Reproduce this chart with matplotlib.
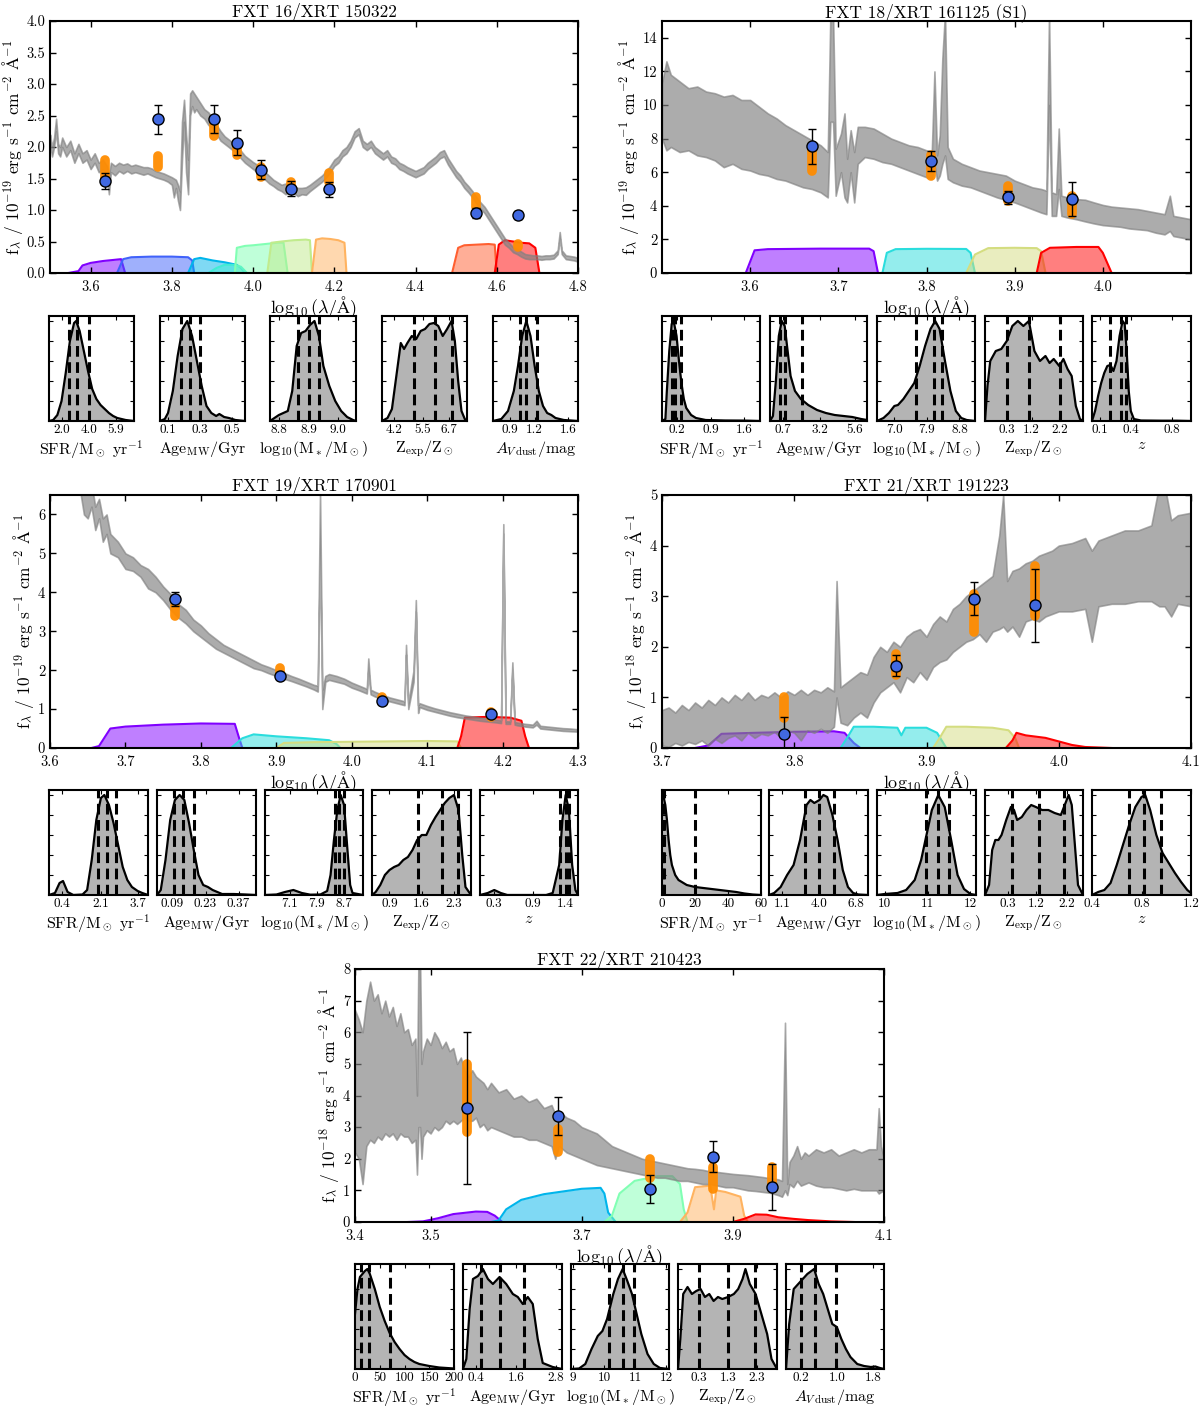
import numpy as np
import matplotlib
matplotlib.use('Agg')
from matplotlib import pyplot as plt
from matplotlib.ticker import FormatStrFormatter

plt.rcParams['font.family'] = 'serif'
plt.rcParams['font.serif'] = ['cmr10', 'DejaVu Serif']
plt.rcParams['mathtext.fontset'] = 'cm'
plt.rcParams['axes.formatter.use_mathtext'] = True
plt.rcParams['axes.linewidth'] = 1.5
plt.rcParams['axes.unicode_minus'] = False

# ============================================================
# SED DATA  (log10 wavelength, lower / upper model envelope)
# ============================================================
# FXT 16
spec16_x = [3.500, 3.505, 3.510, 3.515, 3.520, 3.525, 3.530, 3.540, 3.550, 3.560, 3.570, 3.580, 3.590, 3.600,
            3.610, 3.620, 3.630, 3.640, 3.645, 3.650, 3.660, 3.670, 3.680, 3.690, 3.700, 3.710, 3.720, 3.730,
            3.740, 3.750, 3.760, 3.770, 3.780, 3.790, 3.800, 3.805, 3.810, 3.815, 3.820, 3.825, 3.830, 3.835,
            3.840, 3.845, 3.850, 3.855, 3.860, 3.870, 3.880, 3.890, 3.900, 3.910, 3.920, 3.930, 3.940, 3.950,
            3.960, 3.970, 3.980, 3.990, 4.000, 4.010, 4.020, 4.030, 4.040, 4.050, 4.060, 4.070, 4.080, 4.090,
            4.100, 4.110, 4.120, 4.130, 4.140, 4.150, 4.160, 4.170, 4.180, 4.190, 4.200, 4.210, 4.220, 4.230,
            4.240, 4.250, 4.260, 4.270, 4.280, 4.290, 4.300, 4.310, 4.320, 4.330, 4.340, 4.350, 4.360, 4.370,
            4.380, 4.390, 4.400, 4.410, 4.420, 4.430, 4.440, 4.450, 4.460, 4.470, 4.480, 4.490, 4.500, 4.510,
            4.520, 4.530, 4.540, 4.550, 4.560, 4.570, 4.580, 4.590, 4.600, 4.610, 4.620, 4.630, 4.640, 4.650,
            4.660, 4.670, 4.680, 4.690, 4.700, 4.710, 4.720, 4.730, 4.740, 4.750, 4.755, 4.760, 4.770, 4.780,
            4.790, 4.800]
spec16_lo = [2.05, 1.85, 2.00, 2.25, 1.90, 1.85, 2.00, 1.85, 1.95, 1.75, 1.90, 1.75, 1.80, 1.65,
             1.75, 1.60, 1.65, 1.55, 1.25, 1.60, 1.55, 1.62, 1.58, 1.62, 1.58, 1.60, 1.58, 1.56,
             1.58, 1.55, 1.52, 1.50, 1.48, 1.45, 1.40, 1.20, 1.35, 1.15, 1.00, 1.80, 2.40, 1.60,
             1.25, 2.50, 2.65, 2.55, 2.60, 2.50, 2.45, 2.35, 2.30, 2.20, 2.10, 2.05, 2.00, 1.95,
             1.90, 1.82, 1.75, 1.70, 1.65, 1.60, 1.55, 1.48, 1.42, 1.38, 1.33, 1.30, 1.25, 1.30,
             1.27, 1.22, 1.25, 1.24, 1.30, 1.35, 1.40, 1.45, 1.52, 1.60, 1.70, 1.75, 1.85, 1.90,
             2.00, 2.15, 2.20, 2.00, 1.95, 2.00, 1.90, 1.85, 1.80, 1.85, 1.75, 1.72, 1.65, 1.62,
             1.58, 1.55, 1.52, 1.55, 1.58, 1.65, 1.70, 1.75, 1.82, 1.85, 1.72, 1.62, 1.52, 1.45,
             1.35, 1.28, 1.20, 1.10, 1.02, 0.95, 0.85, 0.75, 0.65, 0.55, 0.45, 0.40, 0.33, 0.30,
             0.26, 0.23, 0.22, 0.22, 0.22, 0.21, 0.22, 0.22, 0.23, 0.30, 0.55, 0.30, 0.22, 0.21,
             0.20, 0.18]
spec16_hi = [2.20, 2.00, 2.15, 2.45, 2.05, 2.00, 2.15, 2.00, 2.10, 1.90, 2.05, 1.90, 1.95, 1.80,
             1.90, 1.75, 1.80, 1.70, 1.55, 1.75, 1.70, 1.75, 1.72, 1.74, 1.70, 1.72, 1.70, 1.68,
             1.68, 1.66, 1.62, 1.60, 1.58, 1.55, 1.52, 1.50, 1.48, 1.40, 1.30, 2.40, 2.75, 2.20,
             1.80, 2.85, 2.90, 2.85, 2.80, 2.70, 2.60, 2.55, 2.45, 2.35, 2.25, 2.17, 2.12, 2.07,
             2.02, 1.94, 1.86, 1.81, 1.76, 1.72, 1.67, 1.60, 1.54, 1.48, 1.44, 1.40, 1.42, 1.40,
             1.38, 1.35, 1.35, 1.36, 1.40, 1.45, 1.50, 1.55, 1.62, 1.70, 1.80, 1.85, 1.95, 2.00,
             2.10, 2.25, 2.30, 2.10, 2.05, 2.10, 2.00, 1.95, 1.90, 1.95, 1.85, 1.82, 1.75, 1.72,
             1.68, 1.65, 1.62, 1.65, 1.68, 1.75, 1.80, 1.85, 1.92, 1.95, 1.82, 1.72, 1.62, 1.55,
             1.45, 1.38, 1.30, 1.20, 1.12, 1.05, 0.95, 0.85, 0.75, 0.65, 0.55, 0.48, 0.41, 0.38,
             0.34, 0.30, 0.29, 0.28, 0.28, 0.27, 0.28, 0.28, 0.29, 0.36, 0.65, 0.36, 0.28, 0.27,
             0.26, 0.24]

# FXT 18
spec18_x = [3.500, 3.505, 3.510, 3.520, 3.530, 3.540, 3.550, 3.560, 3.570, 3.580, 3.590, 3.600, 3.610, 3.620,
            3.630, 3.640, 3.650, 3.660, 3.670, 3.680, 3.688, 3.691, 3.694, 3.697, 3.703, 3.707, 3.710, 3.714,
            3.718, 3.722, 3.730, 3.740, 3.750, 3.760, 3.770, 3.780, 3.790, 3.800, 3.806, 3.809, 3.812, 3.815,
            3.818, 3.821, 3.824, 3.830, 3.840, 3.850, 3.860, 3.870, 3.880, 3.890, 3.900, 3.910, 3.920, 3.930,
            3.936, 3.939, 3.942, 3.947, 3.950, 3.953, 3.960, 3.970, 3.980, 3.990, 4.000, 4.010, 4.020, 4.030,
            4.040, 4.050, 4.060, 4.070, 4.076, 4.080, 4.090, 4.100]
spec18_lo = [8.0, 7.3, 7.5, 7.2, 7.3, 7.0, 6.9, 6.7, 6.3, 6.5, 6.2, 6.1, 5.9, 5.8,
             5.6, 5.5, 5.3, 5.1, 5.0, 4.8, 4.5, 9.0, 9.0, 4.6, 6.0, 4.5, 4.2, 6.0,
             4.2, 6.5, 6.9, 6.8, 6.6, 6.5, 6.3, 6.1, 5.9, 5.7, 5.6, 6.5, 5.5, 5.8,
             6.5, 7.0, 5.6, 5.4, 5.2, 5.1, 4.9, 4.7, 4.5, 4.35, 4.2, 4.0, 3.8, 3.6,
             3.5, 10.0, 3.4, 3.4, 5.0, 3.4, 3.3, 3.2, 3.07, 2.95, 2.85, 2.8, 2.75, 2.65,
             2.6, 2.55, 2.4, 2.3, 2.5, 2.2, 2.1, 2.0]
spec18_hi = [11.3, 12.6, 11.8, 11.4, 11.0, 11.1, 10.8, 10.7, 10.5, 10.6, 10.3, 10.3, 9.9, 9.5,
             9.2, 8.8, 8.5, 8.2, 7.9, 7.6, 7.2, 15.5, 15.5, 7.4, 8.3, 9.5, 6.8, 8.5,
             7.2, 8.7, 8.7, 8.6, 8.3, 8.0, 7.8, 7.6, 7.5, 7.3, 7.2, 12.0, 7.0, 8.2,
             12.8, 15.5, 7.5, 6.8, 6.5, 6.3, 6.1, 6.0, 5.9, 5.8, 5.5, 5.3, 5.1, 5.0,
             4.9, 15.5, 4.8, 4.7, 8.6, 4.6, 4.5, 4.4, 4.36, 4.2, 4.05, 3.95, 3.9, 3.85,
             3.8, 3.7, 3.6, 3.5, 4.6, 3.4, 3.3, 3.2]

# FXT 19
spec19_x = [3.640, 3.645, 3.650, 3.655, 3.660, 3.665, 3.670, 3.675, 3.680, 3.690, 3.700, 3.710, 3.720, 3.730,
            3.740, 3.750, 3.760, 3.770, 3.780, 3.790, 3.800, 3.810, 3.820, 3.830, 3.840, 3.850, 3.860, 3.870,
            3.880, 3.890, 3.900, 3.910, 3.920, 3.930, 3.940, 3.950, 3.955, 3.958, 3.961, 3.965, 3.970, 3.980,
            3.990, 4.000, 4.010, 4.020, 4.022, 4.025, 4.030, 4.040, 4.050, 4.060, 4.070, 4.072, 4.075, 4.082,
            4.085, 4.088, 4.090, 4.100, 4.110, 4.120, 4.130, 4.140, 4.150, 4.160, 4.170, 4.180, 4.190, 4.198,
            4.201, 4.204, 4.210, 4.213, 4.216, 4.220, 4.230, 4.240, 4.245, 4.250, 4.260, 4.270, 4.280, 4.290,
            4.300]
spec19_lo = [6.6, 6.0, 5.9, 6.2, 5.6, 5.9, 5.3, 5.5, 5.0, 4.9, 4.6, 4.55, 4.4, 4.1,
             4.0, 3.8, 3.55, 3.35, 3.2, 3.0, 2.85, 2.7, 2.55, 2.45, 2.35, 2.25, 2.15, 2.05,
             2.0, 1.92, 1.85, 1.78, 1.72, 1.65, 1.58, 1.5, 1.45, 5.0, 1.0, 1.7, 1.75, 1.7,
             1.65, 1.55, 1.48, 1.4, 2.0, 1.38, 1.33, 1.25, 1.2, 1.15, 1.1, 2.4, 1.0, 1.7,
             3.5, 0.9, 1.05, 0.98, 0.93, 0.88, 0.83, 0.79, 0.76, 0.73, 0.7, 0.68, 0.66, 0.64,
             5.5, 0.62, 0.62, 2.0, 0.6, 0.58, 0.55, 0.53, 0.6, 0.5, 0.48, 0.46, 0.44, 0.43,
             0.42]
spec19_hi = [7.0, 6.8, 6.6, 6.8, 6.2, 6.4, 5.9, 6.0, 5.5, 5.3, 5.0, 4.9, 4.7, 4.6,
             4.4, 4.15, 3.95, 3.7, 3.55, 3.3, 3.15, 2.95, 2.8, 2.65, 2.55, 2.45, 2.35, 2.25,
             2.15, 2.08, 2.0, 1.93, 1.85, 1.78, 1.7, 1.62, 1.6, 6.6, 1.5, 1.85, 1.9, 1.85,
             1.78, 1.68, 1.6, 1.52, 2.3, 1.5, 1.45, 1.37, 1.3, 1.25, 1.2, 2.65, 1.15, 2.0,
             3.8, 1.1, 1.15, 1.08, 1.02, 0.97, 0.92, 0.88, 0.84, 0.81, 0.78, 0.76, 0.73, 0.71,
             5.75, 0.69, 0.68, 2.2, 0.67, 0.65, 0.62, 0.6, 0.7, 0.57, 0.55, 0.53, 0.51, 0.5,
             0.48]

# FXT 21
spec21_x = [3.700, 3.705, 3.710, 3.715, 3.720, 3.725, 3.730, 3.735, 3.740, 3.745, 3.750, 3.755, 3.760, 3.765,
            3.770, 3.775, 3.780, 3.785, 3.790, 3.795, 3.800, 3.805, 3.810, 3.815, 3.820, 3.825, 3.830, 3.832,
            3.835, 3.840, 3.845, 3.850, 3.855, 3.860, 3.865, 3.870, 3.875, 3.880, 3.885, 3.890, 3.895, 3.900,
            3.905, 3.910, 3.915, 3.920, 3.925, 3.930, 3.935, 3.940, 3.945, 3.950, 3.955, 3.958, 3.961, 3.965,
            3.970, 3.975, 3.980, 3.985, 3.990, 3.995, 4.000, 4.010, 4.020, 4.025, 4.030, 4.040, 4.050, 4.060,
            4.070, 4.076, 4.080, 4.085, 4.090, 4.100]
spec21_lo = [0.05, 0.02, 0.10, 0.05, 0.12, 0.08, 0.15, 0.05, 0.18, 0.10, 0.20, 0.25, 0.15, 0.30,
             0.20, 0.28, 0.25, 0.32, 0.20, 0.35, 0.30, 0.15, 0.35, 0.30, 0.38, 0.30, 0.42, 1.00,
             0.50, 0.45, 0.60, 0.70, 0.60, 0.90, 1.10, 1.20, 1.30, 1.10, 1.40, 1.30, 1.50, 1.35,
             1.60, 1.70, 1.75, 1.90, 2.00, 2.10, 2.15, 2.25, 2.10, 2.30, 2.35, 2.40, 2.30, 2.40,
             2.20, 2.50, 2.55, 2.50, 2.60, 2.65, 2.70, 2.70, 2.75, 2.10, 2.80, 2.85, 2.85, 2.90,
             2.90, 2.80, 2.80, 2.60, 2.85, 2.80]
spec21_hi = [0.75, 0.80, 0.70, 0.85, 0.75, 0.90, 0.80, 0.95, 0.85, 1.00, 0.90, 1.05, 0.95, 1.10,
             0.95, 1.05, 1.00, 1.10, 1.00, 1.12, 1.05, 1.15, 1.05, 1.15, 1.10, 1.20, 1.12, 3.30,
             1.20, 1.30, 1.40, 1.50, 1.45, 1.80, 2.00, 1.90, 2.10, 2.00, 2.20, 2.30, 2.35, 2.20,
             2.45, 2.60, 2.50, 2.75, 2.85, 3.00, 3.10, 3.20, 3.30, 3.40, 4.20, 5.00, 3.30, 3.50,
             3.55, 3.65, 3.70, 3.80, 3.85, 3.90, 4.00, 4.05, 4.15, 3.90, 4.10, 4.20, 4.30, 4.30,
             4.40, 5.20, 5.20, 4.50, 4.60, 4.65]

# FXT 22
spec22_x = [3.400, 3.405, 3.410, 3.415, 3.420, 3.425, 3.430, 3.435, 3.440, 3.445, 3.450, 3.455, 3.460, 3.465,
            3.470, 3.475, 3.480, 3.482, 3.484, 3.486, 3.488, 3.490, 3.495, 3.500, 3.505, 3.510, 3.515, 3.520,
            3.525, 3.530, 3.535, 3.540, 3.545, 3.550, 3.555, 3.560, 3.565, 3.570, 3.575, 3.580, 3.590, 3.600,
            3.610, 3.620, 3.630, 3.640, 3.650, 3.660, 3.665, 3.670, 3.680, 3.690, 3.700, 3.710, 3.720, 3.730,
            3.740, 3.750, 3.760, 3.770, 3.780, 3.790, 3.800, 3.810, 3.820, 3.830, 3.840, 3.850, 3.860, 3.870,
            3.880, 3.890, 3.900, 3.910, 3.920, 3.930, 3.940, 3.950, 3.960, 3.965, 3.969, 3.972, 3.975, 3.980,
            3.985, 3.990, 3.995, 4.000, 4.010, 4.020, 4.030, 4.040, 4.050, 4.060, 4.070, 4.080, 4.090, 4.093,
            4.096, 4.100]
spec22_lo = [2.2, 2.0, 1.2, 2.4, 2.6, 2.5, 2.7, 2.6, 2.8, 2.7, 2.8, 2.6, 2.8, 2.7,
             2.7, 2.5, 2.6, 1.5, 3.0, 3.0, 2.0, 2.7, 2.9, 2.8, 3.0, 2.9, 3.0, 3.2,
             3.1, 3.2, 3.1, 3.2, 3.3, 3.2, 3.2, 3.3, 3.0, 3.1, 2.9, 3.0, 2.9, 2.8,
             2.7, 2.7, 2.6, 2.6, 2.5, 2.4, 2.0, 2.4, 2.2, 2.1, 2.0, 1.9, 1.8, 1.75,
             1.7, 1.65, 1.6, 1.55, 1.5, 1.45, 1.4, 1.4, 1.35, 1.3, 1.3, 1.25, 1.2, 1.2,
             1.15, 1.1, 1.1, 1.05, 1.0, 0.98, 0.95, 0.92, 0.85, 0.8, 1.0, 0.85, 1.2, 1.1,
             1.3, 1.15, 1.2, 1.25, 1.15, 1.1, 1.1, 1.05, 1.0, 1.05, 1.0, 1.0, 1.0, 0.9,
             0.95, 1.0]
spec22_hi = [6.7, 6.4, 6.0, 7.0, 7.6, 7.0, 7.2, 6.6, 7.0, 6.5, 6.8, 6.2, 6.6, 6.0,
             6.1, 5.6, 5.8, 4.0, 8.5, 8.5, 5.0, 5.4, 5.8, 5.6, 6.0, 5.8, 5.5, 5.7,
             5.4, 5.5, 5.0, 5.2, 4.8, 4.6, 4.8, 4.6, 4.5, 4.4, 4.2, 4.4, 4.1, 4.2,
             3.9, 4.0, 3.8, 3.9, 3.6, 3.7, 3.4, 3.5, 3.3, 3.2, 3.0, 2.9, 2.8, 2.6,
             2.4, 2.3, 2.2, 2.1, 2.0, 1.95, 1.9, 1.85, 1.8, 1.75, 1.7, 1.68, 1.65, 1.6,
             1.58, 1.55, 1.52, 1.5, 1.48, 1.45, 1.42, 1.38, 1.35, 1.3, 6.3, 1.2, 1.9, 2.1,
             2.4, 2.0, 2.2, 2.1, 2.3, 2.2, 2.3, 2.1, 2.2, 2.3, 2.2, 2.3, 2.3, 3.6,
             2.4, 2.0]

# ============================================================
# FILTER CURVES  (x, transmission in plot units)
# ============================================================
filt16 = [
    ([3.545, 3.57, 3.58, 3.60, 3.63, 3.66, 3.675, 3.685], [0, 0.03, 0.12, 0.16, 0.19, 0.21, 0.22, 0]),
    ([3.665, 3.68, 3.70, 3.75, 3.80, 3.84, 3.85, 3.855], [0, 0.22, 0.25, 0.26, 0.26, 0.25, 0.2, 0]),
    ([3.84, 3.855, 3.87, 3.90, 3.93, 3.96, 3.97, 3.98], [0, 0.22, 0.24, 0.2, 0.17, 0.13, 0.08, 0]),
    ([3.89, 3.91, 3.93, 3.95, 3.97, 3.985], [0, 0.08, 0.13, 0.13, 0.1, 0]),
    ([3.955, 3.96, 3.98, 4.00, 4.03, 4.06, 4.075, 4.085], [0, 0.4, 0.43, 0.44, 0.46, 0.48, 0.48, 0]),
    ([4.035, 4.045, 4.07, 4.10, 4.13, 4.14, 4.145], [0, 0.48, 0.5, 0.52, 0.53, 0.52, 0]),
    ([4.145, 4.155, 4.17, 4.19, 4.21, 4.225, 4.23], [0, 0.53, 0.55, 0.54, 0.52, 0.48, 0]),
    ([4.49, 4.505, 4.52, 4.55, 4.58, 4.595, 4.60], [0, 0.4, 0.44, 0.45, 0.46, 0.45, 0]),
    ([4.595, 4.605, 4.62, 4.64, 4.66, 4.68, 4.695, 4.705], [0, 0.45, 0.52, 0.5, 0.48, 0.47, 0.4, 0]),
]
filt18 = [
    ([3.595, 3.605, 3.62, 3.68, 3.735, 3.74, 3.745], [0, 1.35, 1.42, 1.45, 1.45, 1.3, 0]),
    ([3.75, 3.755, 3.765, 3.80, 3.845, 3.85, 3.855], [0, 1.2, 1.42, 1.44, 1.43, 1.2, 0]),
    ([3.845, 3.855, 3.87, 3.90, 3.925, 3.93, 3.935], [0, 1.1, 1.48, 1.5, 1.48, 1.3, 0]),
    ([3.925, 3.93, 3.94, 3.97, 3.995, 4.00, 4.01], [0, 1.2, 1.5, 1.55, 1.55, 1.2, 0]),
]
filt19 = [
    ([3.655, 3.665, 3.68, 3.70, 3.75, 3.80, 3.845, 3.85, 3.855], [0, 0.05, 0.5, 0.55, 0.6, 0.63, 0.62, 0.3, 0]),
    ([3.84, 3.855, 3.87, 3.90, 3.94, 3.97, 3.98, 3.985], [0, 0.25, 0.35, 0.3, 0.25, 0.2, 0.1, 0]),
    ([3.90, 3.91, 3.95, 4.00, 4.05, 4.10, 4.14, 4.145], [0, 0.13, 0.15, 0.16, 0.17, 0.18, 0.17, 0]),
    ([4.14, 4.145, 4.15, 4.18, 4.21, 4.225, 4.23, 4.235], [0, 0.3, 0.78, 0.8, 0.78, 0.7, 0.3, 0]),
]
filt21 = [
    ([3.725, 3.735, 3.745, 3.77, 3.80, 3.83, 3.838, 3.845, 3.85], [0, 0.05, 0.28, 0.3, 0.32, 0.33, 0.3, 0.1, 0]),
    ([3.835, 3.84, 3.845, 3.86, 3.878, 3.881, 3.884, 3.90, 3.908, 3.915], [0, 0.2, 0.42, 0.42, 0.4, 0.25, 0.4, 0.4, 0.3, 0]),
    ([3.905, 3.91, 3.915, 3.93, 3.95, 3.962, 3.967, 3.97], [0, 0.2, 0.42, 0.42, 0.4, 0.35, 0.2, 0]),
    ([3.96, 3.965, 3.968, 3.975, 3.99, 4.00, 4.01, 4.02, 4.04], [0, 0.15, 0.3, 0.25, 0.2, 0.13, 0.06, 0.02, 0]),
]
filt22 = [
    ([3.47, 3.49, 3.51, 3.53, 3.56, 3.575, 3.585, 3.595], [0, 0.02, 0.12, 0.25, 0.33, 0.32, 0.2, 0]),
    ([3.58, 3.59, 3.60, 3.62, 3.65, 3.70, 3.725, 3.73, 3.735, 3.745], [0, 0.05, 0.4, 0.7, 0.88, 1.05, 1.08, 0.9, 0.3, 0]),
    ([3.73, 3.74, 3.75, 3.77, 3.80, 3.82, 3.83, 3.835, 3.84], [0, 0.2, 0.9, 1.3, 1.45, 1.45, 1.2, 0.4, 0]),
    ([3.83, 3.84, 3.85, 3.87, 3.875, 3.878, 3.89, 3.91, 3.915, 3.92], [0, 0.3, 1.1, 1.15, 0.4, 1.0, 0.95, 0.8, 0.2, 0]),
    ([3.90, 3.915, 3.93, 3.945, 3.96, 3.98, 4.00, 4.03, 4.06], [0, 0.1, 0.24, 0.23, 0.15, 0.1, 0.06, 0.02, 0]),
]

# ============================================================
# PHOTOMETRY (observed) AND MODEL PREDICTIONS
# ============================================================
phot16_x = [3.635, 3.767, 3.905, 3.960, 4.020, 4.093, 4.186, 4.550, 4.652]
phot16_y = [1.46, 2.44, 2.45, 2.07, 1.64, 1.34, 1.33, 0.95, 0.92]
phot16_e = [0.12, 0.23, 0.22, 0.20, 0.15, 0.12, 0.12, 0.08, 0.06]
mod16_lo = [1.50, 1.68, 2.18, 1.88, 1.52, 1.35, 1.45, 1.05, 0.42]
mod16_hi = [1.80, 1.85, 2.35, 2.00, 1.68, 1.45, 1.58, 1.20, 0.46]

phot18_x = [3.670, 3.805, 3.893, 3.965]
phot18_y = [7.55, 6.65, 4.50, 4.40]
phot18_e = [1.05, 0.60, 0.40, 1.00]
mod18_lo = [6.1, 5.8, 4.3, 3.5]
mod18_hi = [7.5, 7.0, 5.2, 4.6]

phot19_x = [3.766, 3.905, 4.040, 4.185]
phot19_y = [3.83, 1.85, 1.20, 0.88]
phot19_e = [0.17, 0.05, 0.05, 0.05]
mod19_lo = [3.40, 1.90, 1.20, 0.80]
mod19_hi = [3.65, 2.05, 1.30, 0.92]

phot21_x = [3.792, 3.877, 3.936, 3.982]
phot21_y = [0.27, 1.63, 2.95, 2.82]
phot21_e = [0.35, 0.20, 0.33, 0.72]
mod21_lo = [0.60, 1.45, 2.30, 2.60]
mod21_hi = [1.00, 1.85, 3.05, 3.60]

phot22_x = [3.548, 3.668, 3.790, 3.874, 3.952]
phot22_y = [3.60, 3.35, 1.05, 2.07, 1.10]
phot22_e = [2.40, 0.60, 0.45, 0.48, 0.72]
mod22_lo = [2.85, 2.20, 1.40, 1.05, 1.10]
mod22_hi = [5.00, 2.95, 2.00, 1.75, 1.75]

# ============================================================
# POSTERIORS  (x, relative density), percentiles, tick labels
# ============================================================
p16_sfr = [(1.1, 0), (1.4, 0.01), (1.7, 0.06), (2.0, 0.2), (2.3, 0.48), (2.6, 0.8), (2.9, 0.98), (3.05, 1.0),
           (3.3, 0.9), (3.6, 0.7), (3.9, 0.5), (4.2, 0.32), (4.5, 0.22), (4.8, 0.16), (5.1, 0.12), (5.4, 0.08),
           (5.7, 0.05), (6.0, 0.03), (6.3, 0.02), (6.6, 0.01), (7.2, 0)]
p16_sfr_q = [2.55, 3.1, 4.0]
p16_sfr_t = ['2.0', '4.0', '5.9']
p16_age = [(0.05, 0), (0.08, 0.02), (0.10, 0.08), (0.13, 0.3), (0.16, 0.65), (0.19, 0.92), (0.22, 1.0),
           (0.25, 0.85), (0.28, 0.6), (0.31, 0.35), (0.34, 0.15), (0.37, 0.08), (0.40, 0.05), (0.42, 0.07),
           (0.45, 0.04), (0.48, 0.03), (0.52, 0.01), (0.58, 0)]
p16_age_q = [0.18, 0.235, 0.30]
p16_age_t = ['0.1', '0.3', '0.5']
p16_mass = [(8.77, 0), (8.78, 0.02), (8.80, 0.06), (8.83, 0.1), (8.845, 0.3), (8.86, 0.75), (8.875, 0.88),
            (8.89, 0.9), (8.905, 0.96), (8.92, 1.0), (8.935, 0.85), (8.95, 0.55), (8.97, 0.35), (8.99, 0.2),
            (9.01, 0.1), (9.03, 0.04), (9.05, 0.01), (9.06, 0)]
p16_mass_q = [8.866, 8.90, 8.936]
p16_mass_t = ['8.8', '8.9', '9.0']
p16_met = [(3.65, 0), (3.9, 0.03), (4.1, 0.12), (4.3, 0.45), (4.5, 0.78), (4.65, 0.72), (4.8, 0.78),
           (5.0, 0.85), (5.2, 0.82), (5.4, 0.9), (5.6, 0.92), (5.8, 0.97), (6.0, 0.98), (6.2, 0.95), (6.4, 0.85),
           (6.6, 0.92), (6.8, 1.0), (6.95, 0.8), (7.1, 0.4), (7.25, 0.1), (7.4, 0.02), (7.5, 0)]
p16_met_q = [5.09, 6.04, 6.83]
p16_met_t = ['4.2', '5.5', '6.7']
p16_av = [(0.70, 0), (0.80, 0.02), (0.88, 0.1), (0.95, 0.3), (1.00, 0.55), (1.05, 0.85), (1.10, 1.0),
          (1.15, 0.85), (1.20, 0.55), (1.25, 0.3), (1.30, 0.15), (1.35, 0.08), (1.40, 0.06), (1.45, 0.03),
          (1.55, 0.01), (1.72, 0)]
p16_av_q = [1.02, 1.10, 1.23]
p16_av_t = ['0.9', '1.2', '1.6']

p18_sfr = [(-0.1, 0), (-0.03, 0.02), (0.0, 0.3), (0.05, 0.7), (0.1, 0.97), (0.14, 1.0), (0.2, 0.85),
           (0.25, 0.6), (0.3, 0.38), (0.35, 0.22), (0.4, 0.13), (0.5, 0.06), (0.6, 0.03), (0.8, 0.01),
           (1.2, 0.005), (1.6, 0.004), (1.92, 0)]
p18_sfr_q = [0.1, 0.17, 0.3]
p18_sfr_t = ['0.2', '0.9', '1.6']
p18_age = [(-0.2, 0), (0.0, 0.05), (0.2, 0.4), (0.4, 0.85), (0.6, 1.0), (0.8, 0.95), (1.0, 0.7), (1.2, 0.45),
           (1.5, 0.3), (1.9, 0.22), (2.4, 0.16), (3.0, 0.11), (3.6, 0.08), (4.2, 0.06), (4.8, 0.05),
           (5.4, 0.04), (6.0, 0.02), (6.4, 0.01)]
p18_age_q = [0.5, 0.82, 2.0]
p18_age_t = ['0.7', '3.2', '5.6']
p18_mass = [(6.52, 0), (6.7, 0.03), (6.85, 0.08), (7.0, 0.15), (7.1, 0.16), (7.25, 0.22), (7.4, 0.3),
            (7.55, 0.38), (7.7, 0.55), (7.85, 0.75), (8.0, 0.92), (8.13, 1.0), (8.25, 0.92), (8.4, 0.6),
            (8.55, 0.3), (8.7, 0.1), (8.85, 0.03), (9.0, 0.01), (9.23, 0)]
p18_mass_q = [7.59, 8.1, 8.31]
p18_mass_t = ['7.0', '7.9', '8.8']
p18_met = [(-0.49, 0), (-0.4, 0.35), (-0.3, 0.6), (-0.1, 0.7), (0.1, 0.72), (0.3, 0.8), (0.5, 0.95),
           (0.7, 1.0), (0.9, 0.95), (1.1, 1.0), (1.3, 0.7), (1.5, 0.6), (1.7, 0.65), (1.85, 0.58), (2.0, 0.62),
           (2.2, 0.55), (2.35, 0.62), (2.5, 0.52), (2.65, 0.45), (2.8, 0.15), (2.95, 0.02), (3.06, 0)]
p18_met_q = [0.3, 1.12, 2.22]
p18_met_t = ['0.3', '1.2', '2.2']
p18_red = [(0.02, 0), (0.05, 0.1), (0.08, 0.25), (0.11, 0.38), (0.14, 0.48), (0.17, 0.55), (0.2, 0.56),
           (0.23, 0.5), (0.26, 0.6), (0.29, 0.85), (0.32, 1.0), (0.34, 0.97), (0.36, 0.7), (0.38, 0.3),
           (0.40, 0.1), (0.43, 0.02), (0.5, 0.005), (0.7, 0.003), (0.85, 0.003), (0.99, 0)]
p18_red_q = [0.2, 0.3, 0.35]
p18_red_t = ['0.1', '0.4', '0.8']

p19_sfr = [(-0.16, 0), (0.1, 0.02), (0.3, 0.12), (0.45, 0.14), (0.65, 0.03), (0.9, 0), (1.3, 0.005),
           (1.5, 0.05), (1.7, 0.35), (1.9, 0.75), (2.1, 0.97), (2.25, 1.0), (2.45, 0.9), (2.65, 0.72),
           (2.85, 0.5), (3.05, 0.28), (3.25, 0.15), (3.45, 0.08), (3.7, 0.04), (3.9, 0.02), (4.15, 0)]
p19_sfr_q = [1.96, 2.35, 2.77]
p19_sfr_t = ['0.4', '2.1', '3.7']
p19_age = [(0.024, 0), (0.04, 0.05), (0.06, 0.35), (0.08, 0.75), (0.1, 0.95), (0.12, 1.0), (0.14, 0.95),
           (0.16, 0.72), (0.18, 0.45), (0.2, 0.2), (0.22, 0.1), (0.24, 0.08), (0.26, 0.05), (0.28, 0.03),
           (0.3, 0.01), (0.35, 0.01), (0.4, 0.005), (0.444, 0)]
p19_age_q = [0.095, 0.135, 0.18]
p19_age_t = ['0.09', '0.23', '0.37']
p19_mass = [(6.36, 0), (6.7, 0.005), (6.95, 0.03), (7.2, 0.05), (7.45, 0.02), (7.7, 0.003), (8.0, 0.005),
            (8.2, 0.04), (8.3, 0.2), (8.4, 0.55), (8.5, 0.85), (8.6, 1.0), (8.7, 0.9), (8.8, 0.45),
            (8.88, 0.1), (8.95, 0.02), (9.26, 0)]
p19_mass_q = [8.42, 8.56, 8.7]
p19_mass_t = ['7.1', '7.9', '8.7']
p19_met = [(0.52, 0), (0.6, 0.03), (0.7, 0.1), (0.8, 0.2), (0.9, 0.25), (1.0, 0.28), (1.1, 0.3), (1.2, 0.35),
           (1.3, 0.38), (1.4, 0.45), (1.5, 0.55), (1.6, 0.6), (1.7, 0.6), (1.8, 0.7), (1.9, 0.78), (2.0, 0.85),
           (2.1, 0.92), (2.2, 0.97), (2.3, 1.0), (2.4, 0.85), (2.48, 0.4), (2.55, 0.08), (2.67, 0)]
p19_met_q = [1.52, 2.04, 2.38]
p19_met_t = ['0.9', '1.6', '2.3']
p19_red = [(0.08, 0), (0.2, 0.02), (0.3, 0.05), (0.4, 0.02), (0.5, 0), (1.1, 0), (1.2, 0.02), (1.3, 0.3),
           (1.35, 0.75), (1.4, 1.0), (1.45, 0.85), (1.5, 0.3), (1.55, 0.05), (1.59, 0)]
p19_red_q = [1.32, 1.4, 1.45]
p19_red_t = ['0.3', '0.9', '1.4']

p21_sfr = [(0, 1.0), (1, 0.98), (2, 0.9), (3, 0.75), (4, 0.55), (5, 0.4), (6, 0.3), (8, 0.2), (10, 0.15),
           (15, 0.1), (20, 0.08), (25, 0.07), (30, 0.06), (35, 0.05), (40, 0.04), (45, 0.03), (50, 0.015),
           (55, 0.005), (60, 0)]
p21_sfr_q = [0.4, 1.5, 20]
p21_sfr_t = ['0', '20', '40', '60']
p21_age = [(0.1, 0), (0.5, 0.02), (1.0, 0.08), (1.5, 0.2), (2.0, 0.3), (2.5, 0.55), (3.0, 0.9), (3.3, 0.95),
           (3.6, 0.92), (4.0, 0.95), (4.3, 1.0), (4.6, 0.98), (5.0, 0.8), (5.4, 0.55), (5.8, 0.25), (6.2, 0.08),
           (6.6, 0.02), (7.0, 0.005), (7.75, 0)]
p21_age_q = [2.9, 4.0, 5.1]
p21_age_t = ['1.1', '4.0', '6.8']
p21_mass = [(9.82, 0), (10.0, 0.01), (10.3, 0.02), (10.5, 0.05), (10.7, 0.15), (10.85, 0.35), (11.0, 0.65),
            (11.1, 0.85), (11.25, 1.0), (11.4, 0.88), (11.55, 0.55), (11.7, 0.2), (11.85, 0.06), (12.0, 0.01),
            (12.13, 0)]
p21_mass_q = [10.97, 11.25, 11.5]
p21_mass_t = ['10', '11', '12']
p21_met = [(-0.43, 0), (-0.3, 0.1), (-0.2, 0.45), (-0.1, 0.55), (0.0, 0.55), (0.1, 0.6), (0.25, 0.75),
           (0.4, 0.88), (0.5, 0.85), (0.6, 0.75), (0.75, 0.78), (0.9, 0.85), (1.05, 0.9), (1.2, 0.88),
           (1.4, 0.85), (1.6, 0.85), (1.8, 0.82), (2.0, 0.8), (2.15, 0.92), (2.25, 1.0), (2.35, 0.9),
           (2.45, 0.5), (2.55, 0.1), (2.71, 0)]
p21_met_q = [0.42, 1.3, 2.1]
p21_met_t = ['0.3', '1.2', '2.2']
p21_red = [(0.4, 0), (0.45, 0.03), (0.5, 0.05), (0.55, 0.12), (0.6, 0.3), (0.65, 0.5), (0.7, 0.7), (0.75, 0.88),
           (0.8, 0.98), (0.83, 1.0), (0.87, 0.85), (0.92, 0.6), (0.97, 0.42), (1.02, 0.32), (1.07, 0.22),
           (1.12, 0.13), (1.17, 0.05), (1.2, 0.02)]
p21_red_q = [0.7, 0.82, 0.96]
p21_red_t = ['0.4', '0.8', '1.2']

p22_sfr = [(0, 0.55), (5, 0.8), (10, 0.92), (15, 0.95), (20, 0.98), (25, 1.0), (30, 0.95), (40, 0.8), (50, 0.62),
           (60, 0.48), (70, 0.36), (80, 0.27), (90, 0.2), (100, 0.14), (110, 0.1), (120, 0.07), (130, 0.05),
           (140, 0.04), (150, 0.03), (170, 0.015), (200, 0.005)]
p22_sfr_q = [13, 27.5, 71]
p22_sfr_t = ['0', '50', '100', '150', '200']
p22_age = [(0.0, 0), (0.1, 0.1), (0.2, 0.6), (0.3, 0.9), (0.45, 0.93), (0.6, 1.0), (0.75, 0.9), (0.9, 0.85),
           (1.1, 0.92), (1.3, 0.85), (1.5, 0.75), (1.65, 0.72), (1.8, 0.65), (1.95, 0.72), (2.1, 0.65),
           (2.25, 0.3), (2.4, 0.06), (2.55, 0.04), (2.7, 0.02), (2.98, 0)]
p22_age_q = [0.54, 1.1, 1.83]
p22_age_t = ['0.4', '1.6', '2.8']
p22_mass = [(8.94, 0), (9.2, 0.005), (9.4, 0.05), (9.6, 0.2), (9.8, 0.33), (9.95, 0.38), (10.1, 0.5),
            (10.3, 0.75), (10.45, 0.9), (10.6, 1.0), (10.75, 0.88), (10.9, 0.75), (11.05, 0.55), (11.2, 0.35),
            (11.4, 0.15), (11.6, 0.05), (11.8, 0.01), (12.09, 0)]
p22_mass_q = [10.16, 10.6, 10.95]
p22_mass_t = ['9', '10', '11', '12']
p22_met = [(-0.43, 0), (-0.35, 0.3), (-0.25, 0.75), (-0.1, 0.82), (0.05, 0.75), (0.2, 0.78), (0.35, 0.8),
           (0.5, 0.72), (0.65, 0.75), (0.8, 0.68), (0.95, 0.72), (1.1, 0.7), (1.3, 0.72), (1.5, 0.75),
           (1.65, 0.8), (1.8, 0.9), (1.9, 1.0), (2.05, 0.85), (2.25, 0.75), (2.45, 0.55), (2.65, 0.35),
           (2.8, 0.1), (2.99, 0)]
p22_met_q = [0.3, 1.3, 2.22]
p22_met_t = ['0.3', '1.3', '2.3']
p22_av = [(-0.12, 0), (-0.05, 0.45), (0.05, 0.8), (0.15, 0.85), (0.25, 0.9), (0.35, 0.95), (0.5, 1.0),
          (0.6, 0.85), (0.7, 0.75), (0.8, 0.6), (0.9, 0.45), (1.0, 0.42), (1.1, 0.3), (1.2, 0.2), (1.3, 0.12),
          (1.45, 0.05), (1.6, 0.03), (1.75, 0.02), (1.85, 0.025), (1.95, 0.01), (2.04, 0)]
p22_av_q = [0.22, 0.52, 0.99]
p22_av_t = ['0.2', '1.0', '1.8']

LAB_SFR = r'SFR/M$_\odot$ yr$^{-1}$'
LAB_AGE = r'Age$_{\mathrm{MW}}$/Gyr'
LAB_MASS = r'log$_{10}$(M$_*$/M$_\odot$)'
LAB_MET = r'Z$_{\mathrm{exp}}$/Z$_\odot$'
LAB_AV = r'$A_{V\,\mathrm{dust}}$/mag'
LAB_Z = r'$z$'

W, H = 1200, 1417
ORANGE = '#ff8c00'
BLUE = '#4169e1'


def box_axes(fig, x0, y0, x1, y1):
    return fig.add_axes([x0 / W, 1 - y1 / H, (x1 - x0) / W, (y1 - y0) / H])


# ============================================================
# SED PANEL
# ============================================================
def sed_panel(ax, title, sx, slo, shi, filters, px, py, pe, mlo, mhi, xlim, ylim, xticks, yticks, yfmt, expo):
    colors = plt.cm.rainbow(np.linspace(0, 1, len(filters)))
    for (fx, fy), c in zip(filters, colors):
        ax.fill_between(fx, 0, fy, color=c, alpha=0.5, lw=0, zorder=1)
        ax.plot(fx, fy, color=c, lw=1.5, zorder=1)
    ax.fill_between(sx, slo, shi, color='gray', alpha=0.65, lw=1.2, zorder=2)
    for x, lo, hi in zip(px, mlo, mhi):
        ax.plot([x, x], [lo, hi], color=ORANGE, lw=7, solid_capstyle='round', alpha=0.95, zorder=3)
    ax.errorbar(px, py, yerr=pe, fmt='o', color=BLUE, mec='black', mew=1, ms=8,
                ecolor='black', elinewidth=1, capsize=3, capthick=1, zorder=4)
    ax.set_xlim(xlim)
    ax.set_ylim(ylim)
    ax.set_xticks(xticks)
    ax.set_yticks(yticks)
    ax.xaxis.set_major_formatter(FormatStrFormatter('%.1f'))
    ax.yaxis.set_major_formatter(FormatStrFormatter(yfmt))
    ax.tick_params(direction='in', top=True, right=True, length=4, width=1, labelsize=10.5)
    ax.tick_params(axis='x', pad=5)
    ax.set_title(title, fontsize=12.5, pad=3)
    ax.set_xlabel(r'$\log_{10}(\lambda/\mathrm{\AA})$', fontsize=13, labelpad=0)
    ax.set_ylabel(r'f$_{\lambda}$ / 10$^{%d}$ erg s$^{-1}$ cm$^{-2}$ $\mathrm{\AA}^{-1}$' % expo,
                  fontsize=12.5, labelpad=1)


# ============================================================
# POSTERIOR PANEL
# ============================================================
def post_panel(ax, pdf, q, ticks, label):
    x = [p[0] for p in pdf]
    y = [p[1] for p in pdf]
    ax.fill_between(x, 0, y, color='#b4b4b4', lw=0)
    ax.plot(x, y, color='black', lw=1.6)
    for v in q:
        ax.axvline(v, color='black', lw=2.2, ls=(0, (3.5, 1.8)))
    ax.set_xlim(x[0], x[-1])
    ax.set_ylim(0, 1.05)
    ax.set_xticks([float(t) for t in ticks])
    ax.set_xticklabels(ticks)
    ax.set_yticks([0.2, 0.4, 0.6, 0.8, 1.0])
    ax.tick_params(direction='in', top=True, right=True, labelleft=False, length=3, width=0.8,
                   labelsize=9.5, pad=2)
    ax.set_xlabel(label, fontsize=11.5, labelpad=2)


fig = plt.figure(figsize=(12, 14.17), dpi=100)

# ---- row 1
ax = box_axes(fig, 50, 21, 578, 273)
sed_panel(ax, 'FXT 16/XRT 150322', spec16_x, spec16_lo, spec16_hi, filt16,
          phot16_x, phot16_y, phot16_e, mod16_lo, mod16_hi,
          (3.5, 4.8), (0, 4.0), [3.6, 3.8, 4.0, 4.2, 4.4, 4.6, 4.8],
          [0, 0.5, 1.0, 1.5, 2.0, 2.5, 3.0, 3.5, 4.0], '%.1f', -19)
ax = box_axes(fig, 662, 21, 1191, 273)
sed_panel(ax, 'FXT 18/XRT 161125 (S1)', spec18_x, spec18_lo, spec18_hi, filt18,
          phot18_x, phot18_y, phot18_e, mod18_lo, mod18_hi,
          (3.5, 4.1), (0, 15), [3.6, 3.7, 3.8, 3.9, 4.0],
          [0, 2, 4, 6, 8, 10, 12, 14], '%d', -19)

posts16 = [(p16_sfr, p16_sfr_q, p16_sfr_t, LAB_SFR), (p16_age, p16_age_q, p16_age_t, LAB_AGE),
           (p16_mass, p16_mass_q, p16_mass_t, LAB_MASS), (p16_met, p16_met_q, p16_met_t, LAB_MET),
           (p16_av, p16_av_q, p16_av_t, LAB_AV)]
boxes16 = [(49, 134), (160, 245), (270, 356), (382, 467), (493, 578)]
for (x0, x1), args in zip(boxes16, posts16):
    post_panel(box_axes(fig, x0, 316, x1, 421), *args)

posts18 = [(p18_sfr, p18_sfr_q, p18_sfr_t, LAB_SFR), (p18_age, p18_age_q, p18_age_t, LAB_AGE),
           (p18_mass, p18_mass_q, p18_mass_t, LAB_MASS), (p18_met, p18_met_q, p18_met_t, LAB_MET),
           (p18_red, p18_red_q, p18_red_t, LAB_Z)]
boxes_r = [(662, 760), (770, 867), (877, 975), (985, 1083), (1092, 1191)]
for (x0, x1), args in zip(boxes_r, posts18):
    post_panel(box_axes(fig, x0, 316, x1, 421), *args)

# ---- row 2
ax = box_axes(fig, 50, 495, 578, 748)
sed_panel(ax, 'FXT 19/XRT 170901', spec19_x, spec19_lo, spec19_hi, filt19,
          phot19_x, phot19_y, phot19_e, mod19_lo, mod19_hi,
          (3.6, 4.3), (0, 6.5), [3.6, 3.7, 3.8, 3.9, 4.0, 4.1, 4.2, 4.3],
          [0, 1, 2, 3, 4, 5, 6], '%d', -19)
ax = box_axes(fig, 662, 495, 1191, 748)
sed_panel(ax, 'FXT 21/XRT 191223', spec21_x, spec21_lo, spec21_hi, filt21,
          phot21_x, phot21_y, phot21_e, mod21_lo, mod21_hi,
          (3.7, 4.1), (0, 5), [3.7, 3.8, 3.9, 4.0, 4.1],
          [0, 1, 2, 3, 4, 5], '%d', -18)

posts19 = [(p19_sfr, p19_sfr_q, p19_sfr_t, LAB_SFR), (p19_age, p19_age_q, p19_age_t, LAB_AGE),
           (p19_mass, p19_mass_q, p19_mass_t, LAB_MASS), (p19_met, p19_met_q, p19_met_t, LAB_MET),
           (p19_red, p19_red_q, p19_red_t, LAB_Z)]
boxes19 = [(49, 148), (157, 256), (265, 363), (372, 471), (480, 578)]
for (x0, x1), args in zip(boxes19, posts19):
    post_panel(box_axes(fig, x0, 790, x1, 895), *args)

posts21 = [(p21_sfr, p21_sfr_q, p21_sfr_t, LAB_SFR), (p21_age, p21_age_q, p21_age_t, LAB_AGE),
           (p21_mass, p21_mass_q, p21_mass_t, LAB_MASS), (p21_met, p21_met_q, p21_met_t, LAB_MET),
           (p21_red, p21_red_q, p21_red_t, LAB_Z)]
boxes21 = [(662, 761), (769, 868), (877, 976), (985, 1083), (1092, 1191)]
for (x0, x1), args in zip(boxes21, posts21):
    post_panel(box_axes(fig, x0, 790, x1, 895), *args)

# ---- row 3
ax = box_axes(fig, 355, 969, 884, 1222)
sed_panel(ax, 'FXT 22/XRT 210423', spec22_x, spec22_lo, spec22_hi, filt22,
          phot22_x, phot22_y, phot22_e, mod22_lo, mod22_hi,
          (3.4, 4.1), (0, 8), [3.4, 3.5, 3.7, 3.9, 4.1],
          [0, 1, 2, 3, 4, 5, 6, 7, 8], '%d', -18)

posts22 = [(p22_sfr, p22_sfr_q, p22_sfr_t, LAB_SFR), (p22_age, p22_age_q, p22_age_t, LAB_AGE),
           (p22_mass, p22_mass_q, p22_mass_t, LAB_MASS), (p22_met, p22_met_q, p22_met_t, LAB_MET),
           (p22_av, p22_av_q, p22_av_t, LAB_AV)]
boxes22 = [(355, 454), (463, 562), (571, 669), (678, 777), (786, 884)]
for (x0, x1), args in zip(boxes22, posts22):
    post_panel(box_axes(fig, x0, 1264, x1, 1369), *args)

fig.savefig('out.png', dpi=100)
